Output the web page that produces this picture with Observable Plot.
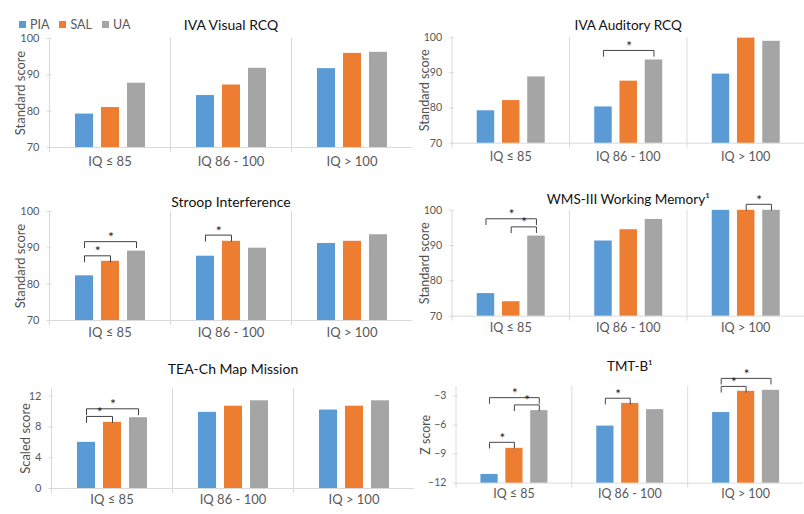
<!DOCTYPE html>
<html><head><meta charset="utf-8">
<script src="https://cdn.jsdelivr.net/npm/d3@7"></script>
<script src="https://cdn.jsdelivr.net/npm/@observablehq/plot@0.6"></script>
<style>
html,body{margin:0;padding:0;background:#fff;overflow:hidden}
#chart{position:relative;width:804px;height:514px;overflow:hidden;font-family:Lato,"Open Sans",sans-serif;background:#fff}
.panel{position:absolute}
#legend{position:absolute;left:19px;top:8px}
#legend span{margin-right:10px !important;font-size:12.5px}
#legend svg{margin-right:4px !important}
</style></head><body><div id="chart"><div id="legend"></div></div>
<script>
// ---- data ----
const series = ["PIA", "SAL", "UA"];
const groups = ["IQ ≤ 85", "IQ 86 - 100", "IQ > 100"];
const colors = ["#5B9BD5", "#ED7D31", "#A5A5A5"];
const titles = ["IVA Visual RCQ", "IVA Auditory RCQ", "Stroop Interference", "WMS-III Working Memory¹", "TEA-Ch Map Mission", "TMT-B¹"];
const yLabels = ["Standard score", "Standard score", "Standard score", "Standard score", "Scaled score", "Z score"];
const yDomains = [[70, 100], [70, 100], [70, 100], [70, 100], [0, 13], [-12, -2]];
const yTicks = [[70, 80, 90, 100], [70, 80, 90, 100], [70, 80, 90, 100], [70, 80, 90, 100], [0, 4, 8, 12], [-12, -9, -6, -3]];
// values: per group (PIA, SAL, UA)
const ivaVisual   = [79.2, 81.0, 87.7,  84.3, 87.2, 91.8,  91.7, 95.9, 96.2];
const ivaAuditory = [79.2, 82.1, 88.8,  80.3, 87.6, 93.6,  89.6, 99.8, 98.9];
const stroop      = [82.3, 86.3, 89.1,  87.7, 91.8, 89.9,  91.2, 91.8, 93.6];
const wmsWorking  = [76.4, 74.1, 92.7,  91.3, 94.5, 97.4,  100, 100, 100];
const teaChMap    = [6.0, 8.6, 9.2,  9.9, 10.7, 11.4,  10.2, 10.7, 11.4];
const tmtB        = [-11.1, -8.4, -4.5,  -6.1, -3.75, -4.4,  -4.7, -2.5, -2.4];
const panelValues = [ivaVisual, ivaAuditory, stroop, wmsWorking, teaChMap, tmtB];
// significance brackets
const sigPanel = [1, 2, 2, 2, 3, 3, 3, 4, 4, 5, 5, 5, 5, 5, 5];
const sigGroup = [1, 0, 0, 1, 0, 0, 2, 0, 0, 0, 0, 0, 1, 2, 2];
const sigFrom  = ["PIA","PIA","PIA","PIA","PIA","SAL","SAL","PIA","PIA","PIA","PIA","SAL","PIA","PIA","PIA"];
const sigTo    = ["UA","SAL","UA","SAL","UA","UA","UA","SAL","UA","SAL","UA","UA","SAL","SAL","UA"];
const sigLevel = [96.3, 87.8, 91.7, 93.5, 97.6, 95.3, 101.7, 9.37, 10.36, -7.78, -3.16, -3.91, -3.22, -2.0, -1.17];

// ---- layout (styles only) ----
const layout = [
  {left: 0,   top: 0,   width: 412, height: 170, ml: 48, mt: 38, mb: 23, titleDy: -18, labDy: 18, labOff: 34},
  {left: 400, top: 0,   width: 416, height: 170, ml: 52, mt: 38, mb: 23, titleDy: -18, labDy: 18, labOff: 33},
  {left: 0,   top: 170, width: 412, height: 170, ml: 48, mt: 41, mb: 20, titleDy: -14, labDy: 16, labOff: 34},
  {left: 400, top: 170, width: 416, height: 170, ml: 52, mt: 41, mb: 20, titleDy: -16, labDy: 16, labOff: 33},
  {left: 0,   top: 340, width: 414, height: 174, ml: 50, mt: 48, mb: 26, titleDy: -24, labDy: 15, labOff: 31},
  {left: 400, top: 340, width: 422, height: 174, ml: 57, mt: 48, mb: 25, titleDy: -26, labDy: 16, labOff: 36}
];
const FONT = "Lato, 'Open Sans', sans-serif";
const GROUP_W = (412 - 48) / 3;
const PAD_IN = 0.32, PAD_OUT = 0.943;
const STEP = GROUP_W / (3 - PAD_IN + 2 * PAD_OUT);

function panel(i) {
  const L = layout[i];
  const [y0, y1] = yDomains[i];
  const rows = [];
  groups.forEach((g, gi) => series.forEach((s, si) => rows.push({group: g, series: s, value: panelValues[i][gi * 3 + si]})));
  const plotH = L.height - L.mt - L.mb;
  const unit = (y1 - y0) / plotH;
  const tick = 6 * unit;
  const sig = [];
  sigPanel.forEach((p, k) => { if (p === i) sig.push({g: groups[sigGroup[k]], from: sigFrom[k], to: sigTo[k], level: sigLevel[k]}); });
  const pts = sig.flatMap((b, k) => [
    {id: k, group: b.g, x: b.from, y: b.level - tick},
    {id: k, group: b.g, x: b.from, y: b.level},
    {id: k, group: b.g, x: b.to, y: b.level},
    {id: k, group: b.g, x: b.to, y: b.level - tick}
  ]);
  const stars = sig.map(b => Plot.text([b], {
    fx: d => d.g, x: d => d.from, y: d => d.level, text: () => "*",
    dx: (series.indexOf(b.to) - series.indexOf(b.from)) * STEP / 2, dy: -4,
    fontSize: 14, fill: "#222"
  }));
  const chart = Plot.plot({
    width: L.width, height: L.height,
    marginLeft: L.ml, marginRight: Math.max(0, L.width - L.ml - 3 * GROUP_W),
    marginTop: L.mt, marginBottom: L.mb,
    style: {fontFamily: FONT, fontSize: "11px", color: "#595959", background: "transparent", overflow: "visible"},
    fx: {domain: groups, padding: 0, axis: null, label: null},
    x: {domain: series, paddingInner: PAD_IN, paddingOuter: PAD_OUT, axis: null},
    y: {domain: yDomains[i], axis: null},
    color: {domain: series, range: colors},
    marks: [
      Plot.frame({anchor: "left", stroke: "#d9d9d9", insetBottom: -4}),
      Plot.ruleY([y0], {stroke: "#d9d9d9"}),
      Plot.axisY({ticks: yTicks[i], tickSize: 5, dx: 2.5, tickFormat: () => "", color: "#d9d9d9", label: null}),
      Plot.axisY({ticks: yTicks[i], tickSize: 0, tickPadding: 10, fontSize: 11, color: "#595959", label: null}),
      Plot.axisY({ticks: yTicks[i], tickSize: 0, tickFormat: () => "", fontSize: 13, color: "#505050",
        label: yLabels[i], labelAnchor: "center", labelArrow: "none", labelOffset: L.labOff}),
      Plot.barY(rows, {fx: "group", x: "series", y1: () => y0, y2: "value", fill: "series"}),
      Plot.line(pts, {fx: "group", x: "x", y: "y", z: "id", stroke: "#404040", strokeWidth: 1}),
      ...stars,
      Plot.text(groups, {fx: d => d, text: d => d, frameAnchor: "bottom", dy: L.labDy, fontSize: 13, fill: "#595959"}),
      Plot.text([titles[i]], {fx: () => groups[1], text: d => d, frameAnchor: "top", dy: L.titleDy, fontSize: 14, fill: "#111"})
    ]
  });
  const div = document.createElement("div");
  div.className = "panel";
  div.style.left = L.left + "px";
  div.style.top = L.top + "px";
  div.appendChild(chart);
  document.getElementById("chart").appendChild(div);
}
for (let i = 0; i < 6; i++) panel(i);

const legend = Plot.legend({color: {domain: series, range: colors}, swatchSize: 7,
  style: {fontFamily: FONT, fontSize: "12.5px", color: "#595959"}});
document.getElementById("legend").appendChild(legend);
</script></body></html>
